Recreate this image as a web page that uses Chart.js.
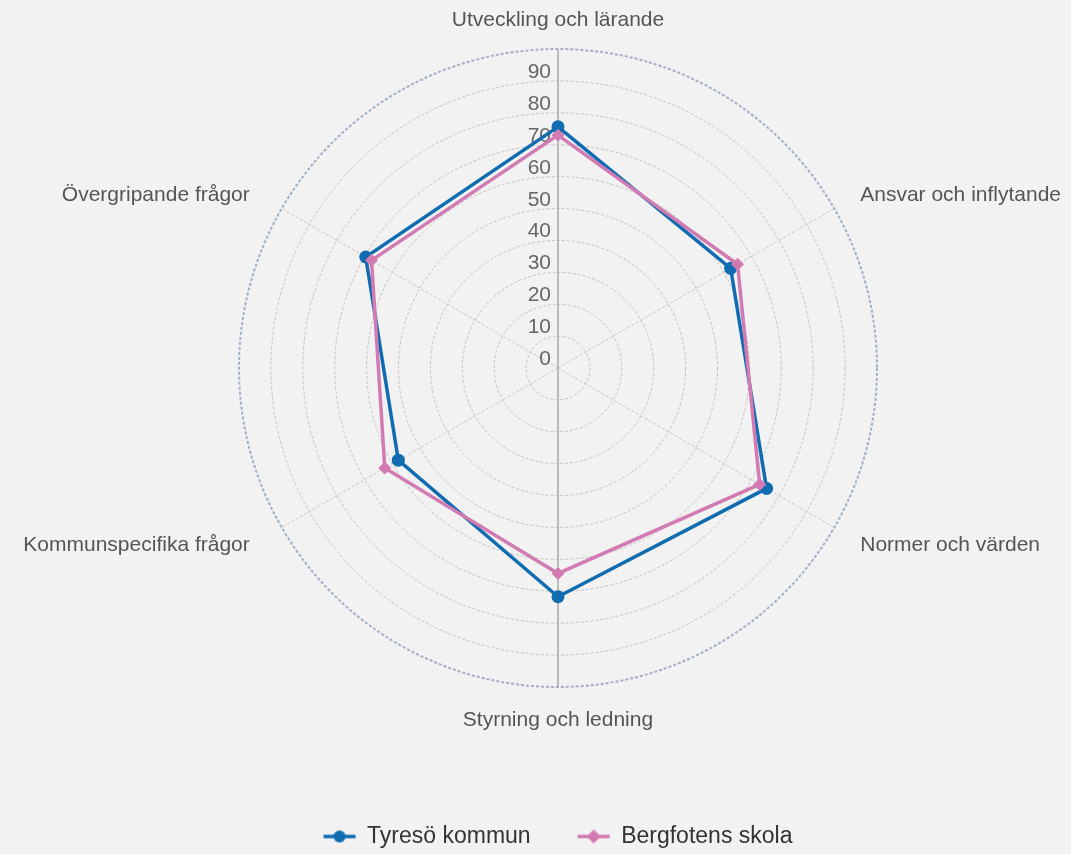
<!DOCTYPE html>
<html>
<head>
<meta charset="utf-8">
<script src="https://cdn.jsdelivr.net/npm/chart.js@4"></script>
<style>
html,body{margin:0;padding:0;background:#f2f2f2;}
#wrap{width:1071px;height:854px;}
</style>
</head>
<body>
<div id="wrap"><canvas id="c" width="1071" height="854"></canvas></div>
<script>
const categories = ['Utveckling och lärande', 'Ansvar och inflytande', 'Normer och värden', 'Styrning och ledning', 'Kommunspecifika frågor', 'Övergripande frågor'];
const seriesNames = ['Tyresö kommun', 'Bergfotens skola'];
const tyresoValues = [75.6, 62.5, 75.5, 71.7, 57.8, 69.6];
const bergfotensValues = [73.0, 65.0, 73.0, 64.4, 62.7, 67.5];
const tickValues = [0, 10, 20, 30, 40, 50, 60, 70, 80, 90];
const tickLabels = ['0', '10', '20', '30', '40', '50', '60', '70', '80', '90'];
const axisMin = 0, axisMax = 100, axisStep = 10;

const BLUE = '#0f6cb0';
const PINK = '#d27bb3';
const FONT = '"Liberation Sans", Arial, Helvetica, sans-serif';

function legendMarker(color, style) {
  const cv = document.createElement('canvas');
  cv.width = 34; cv.height = 16;
  const g = cv.getContext('2d');
  g.strokeStyle = color; g.lineWidth = 3.5;
  g.beginPath(); g.moveTo(1, 8); g.lineTo(33, 8); g.stroke();
  g.fillStyle = color;
  g.beginPath();
  if (style === 'circle') { g.arc(17, 8, 6, 0, Math.PI * 2); }
  else { g.moveTo(17, 1); g.lineTo(24, 8); g.lineTo(17, 15); g.lineTo(10, 8); g.closePath(); }
  g.fill();
  return cv;
}
const markers = [legendMarker(BLUE, 'circle'), legendMarker(PINK, 'diamond')];

const bgPlugin = {
  id: 'bg',
  beforeDraw(chart) {
    const ctx = chart.ctx;
    ctx.save(); ctx.fillStyle = '#f2f2f2'; ctx.fillRect(0, 0, chart.width, chart.height); ctx.restore();
  }
};

const labelPlugin = {
  id: 'radarLabels',
  beforeDatasetsDraw(chart) {
    const s = chart.scales.r;
    const ctx = chart.ctx;
    ctx.save();
    ctx.font = '21px ' + FONT;
    ctx.fillStyle = '#666666';
    ctx.textAlign = 'right';
    ctx.textBaseline = 'alphabetic';
    tickValues.forEach((v, i) => {
      const p = s.getPointPositionForValue(0, v);
      ctx.fillText(tickLabels[i], p.x - 7, p.y - 3);
    });
    ctx.fillStyle = '#555555';
    ctx.textBaseline = 'middle';
    categories.forEach((c, i) => {
      const p = s.getPointPosition(i, s.drawingArea + 30);
      const deg = Math.round(s.getIndexAngle(i) * 180 / Math.PI) % 360;
      let dx = 0, dy = 1;
      if (deg === 0 || deg === 180) ctx.textAlign = 'center';
      else if (deg < 180) ctx.textAlign = 'left';
      else { ctx.textAlign = 'right'; dx = -6; }
      if (deg > 90 && deg < 270) dy = 3;
      else if (deg !== 0) dy = 2;
      ctx.fillText(c, p.x + dx, p.y + dy);
    });
    ctx.restore();
  }
};

new Chart(document.getElementById('c'), {
  type: 'radar',
  data: {
    labels: categories,
    datasets: [
      {
        label: seriesNames[0], data: tyresoValues,
        borderColor: BLUE, backgroundColor: BLUE, borderWidth: 3.5, fill: false,
        pointStyle: 'circle', pointRadius: 6.5, pointBackgroundColor: BLUE, pointBorderColor: BLUE, pointBorderWidth: 0,
        order: 1
      },
      {
        label: seriesNames[1], data: bergfotensValues,
        borderColor: PINK, backgroundColor: PINK, borderWidth: 3.5, fill: false,
        pointStyle: 'rectRot', pointRadius: 6.5, pointBackgroundColor: PINK, pointBorderColor: PINK, pointBorderWidth: 0,
        order: 0
      }
    ]
  },
  options: {
    responsive: false,
    animation: false,
    devicePixelRatio: 1,
    layout: { padding: { left: 239, right: 194, top: 49, bottom: -4 } },
    elements: { line: { tension: 0 } },
    scales: {
      r: {
        min: axisMin, max: axisMax,
        ticks: { display: false, stepSize: axisStep },
        pointLabels: { display: false },
        grid: {
          circular: true,
          color: (ctx) => ctx.tick && ctx.tick.value === axisMax ? '#a3aec8' : '#c2c2c2',
          lineWidth: (ctx) => ctx.tick && ctx.tick.value === axisMax ? 2 : 1
        },
        border: { dash: [3, 2] },
        angleLines: {
          color: (ctx) => (ctx.index === 0 || ctx.index === 3) ? '#a8a8a8' : '#c6c6c6',
          lineWidth: (ctx) => (ctx.index === 0 || ctx.index === 3) ? 1.5 : 1,
          borderDash: (ctx) => (ctx.index === 0 || ctx.index === 3) ? [] : [3, 2]
        }
      }
    },
    plugins: {
      tooltip: { enabled: false },
      legend: {
        position: 'bottom',
        title: { display: true, text: '', font: { size: 10 }, padding: { top: 79, bottom: 0 } },
        labels: {
          usePointStyle: true,
          pointStyleWidth: 32,
          padding: 47,
          color: '#333333',
          font: { family: FONT, size: 23 },
          sort: (a, b) => a.datasetIndex - b.datasetIndex,
          generateLabels(chart) {
            const items = Chart.defaults.plugins.legend.labels.generateLabels(chart);
            items.forEach(it => { it.pointStyle = markers[it.datasetIndex]; });
            return items;
          }
        }
      }
    }
  },
  plugins: [bgPlugin, labelPlugin]
});
</script>
</body>
</html>
